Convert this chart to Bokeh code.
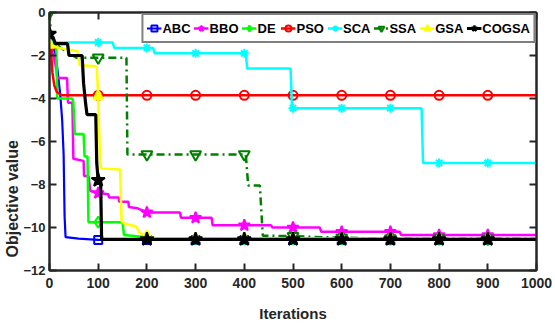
import numpy as np
from bokeh.plotting import figure
from bokeh.models import Range1d, LinearAxis, Legend, LegendItem, FixedTicker, Title
from bokeh.embed import file_html
from bokeh.resources import INLINE

# ---------------- data ----------------
X_TICKS = [0, 100, 200, 300, 400, 500, 600, 700, 800, 900, 1000]
Y_TICKS = [-12, -10, -8, -6, -4, -2, 0]
MARKER_X = [0, 100, 200, 300, 400, 500, 600, 700, 800, 900]

ABC_X = [0, 8, 12, 16, 22, 26, 29, 31, 33, 60, 100, 1000]
ABC_Y = [-1.3, -1.6, -1.9, -2.6, -3.8, -5.0, -6.6, -9.5, -10.45, -10.52, -10.58, -10.58]

BBO_X = [0, 8, 14, 16, 36, 38, 47, 49, 70, 71, 80, 84, 100, 121, 122, 142, 143, 162, 163, 180, 200, 268, 270, 333, 335, 455, 458, 555, 558, 719, 722, 1000]
BBO_Y = [-1.7, -2.0, -2.6, -3.05, -3.05, -4.2, -4.2, -6.8, -6.9, -7.6, -7.6, -8.3, -8.4, -8.45, -8.6, -8.6, -8.8, -8.8, -9.05, -9.1, -9.3, -9.3, -9.55, -9.55, -9.9, -9.9, -10.0, -10.0, -10.2, -10.2, -10.35, -10.35]

DE_X = [0, 10, 14, 16, 47, 49, 52, 70, 72, 78, 80, 150, 153, 200, 230, 1000]
DE_Y = [-1.3, -1.4, -1.6, -4.0, -4.0, -4.2, -5.65, -5.65, -6.7, -6.7, -9.75, -9.75, -10.35, -10.45, -10.52, -10.55]

PSO_X = [0, 3, 6, 10, 15, 25, 1000]
PSO_Y = [-1.65, -1.8, -2.8, -3.4, -3.7, -3.85, -3.85]

SCA_X = [0, 5, 130, 133, 213, 216, 403, 406, 495, 498, 764, 767, 1000]
SCA_Y = [-1.2, -1.38, -1.4, -1.65, -1.65, -1.9, -1.9, -2.6, -2.6, -4.45, -4.45, -7.0, -7.0]

SSA_X = [0, 2, 5, 20, 48, 55, 158, 160, 403, 408, 432, 438, 500, 560, 650, 1000]
SSA_Y = [0, -0.6, -1.3, -1.6, -2.0, -2.1, -2.1, -6.6, -6.6, -8.05, -8.05, -10.38, -10.4, -10.45, -10.5, -10.52]

GSA_X = [0, 20, 58, 62, 97, 100, 102, 104, 106, 145, 148, 152, 178, 185, 200, 215, 1000]
GSA_Y = [-1.5, -1.65, -1.8, -2.45, -2.5, -3.9, -5.6, -7.0, -7.25, -7.3, -9.7, -9.8, -9.95, -10.25, -10.4, -10.5, -10.52]

COGSA_X = [0, 8, 12, 37, 40, 67, 70, 74, 77, 95, 97, 100, 105, 107, 1000]
COGSA_Y = [-1.0, -1.2, -1.45, -1.45, -2.0, -2.0, -3.3, -4.2, -4.75, -4.75, -7.0, -7.8, -7.85, -10.55, -10.55]

SERIES = [
    ("ABC", ABC_X, ABC_Y),
    ("BBO", BBO_X, BBO_Y),
    ("DE", DE_X, DE_Y),
    ("PSO", PSO_X, PSO_Y),
    ("SCA", SCA_X, SCA_Y),
    ("SSA", SSA_X, SSA_Y),
    ("GSA", GSA_X, GSA_Y),
    ("COGSA", COGSA_X, COGSA_Y),
]

# ---------------- styles ----------------
STYLE = {
    "ABC":   dict(color="#0000FF", marker="square", size=8, fill=None, dash="solid", lw=2.2),
    "BBO":   dict(color="#FF00FF", marker="star", size=12, fill="#FF00FF", dash="solid", lw=2.5),
    "DE":    dict(color="#00FF00", marker="diamond", size=11, fill=None, dash="solid", lw=2.5),
    "PSO":   dict(color="#FF0000", marker="circle", size=9, fill=None, dash="solid", lw=2.5),
    "SCA":   dict(color="#00FFFF", marker="asterisk", size=9, fill=None, dash="solid", lw=2.5),
    "SSA":   dict(color="#008000", marker="inverted_triangle", size=11, fill=None, dash="8 4 2 4", lw=2.5),
    "GSA":   dict(color="#FFFF00", marker="triangle", size=10, fill="#FFFF00", dash="solid", lw=2.5),
    "COGSA": dict(color="#000000", marker="star", size=14, fill="#000000", dash="solid", lw=3.2),
}

FONT = "Liberation Sans"
AX = "#262626"

p = figure(width=555, height=328, output_backend="svg", toolbar_location=None,
           x_range=Range1d(0, 1000), y_range=Range1d(-12, 0),
           min_border_left=49, min_border_right=19, min_border_top=12, min_border_bottom=58)
p.background_fill_color = "white"
p.border_fill_color = "white"
p.grid.visible = False
p.outline_line_color = AX
p.outline_line_width = 2

items = []
for name, xs, ys in SERIES:
    st = STYLE[name]
    lr = p.line(xs, ys, line_color=st["color"], line_width=st["lw"], line_dash=st["dash"])
    my = np.interp(MARKER_X, xs, ys)
    mr = p.scatter(MARKER_X, my, marker=st["marker"], size=st["size"],
                   line_color=st["color"], line_width=2,
                   fill_color=st["fill"] if st["fill"] else st["color"],
                   fill_alpha=1.0 if st["fill"] else 0.0)
    items.append(LegendItem(label=name, renderers=[lr, mr]))

legend = Legend(items=items, orientation="horizontal", location="top_right",
                margin=1, padding=3, spacing=3, glyph_width=15, glyph_height=20,
                label_standoff=1,
                label_text_font=FONT, label_text_font_style="bold",
                label_text_font_size="13px", label_text_color="#000000",
                border_line_color="#000000", border_line_width=2,
                background_fill_color="white", background_fill_alpha=1.0)
p.add_layout(legend)

def style_axis(ax, size="14px"):
    ax.axis_line_color = AX
    ax.axis_line_width = 2
    ax.major_tick_line_color = AX
    ax.major_tick_line_width = 2
    ax.major_tick_in = 7
    ax.major_tick_out = 0
    ax.minor_tick_line_color = None
    ax.major_label_text_font = FONT
    ax.major_label_text_font_style = "bold"
    ax.major_label_text_color = AX
    ax.major_label_text_font_size = size

xa = p.xaxis[0]
xa.ticker = FixedTicker(ticks=X_TICKS)
style_axis(xa, "14px")
xa.major_label_standoff = 7
xa.axis_label = "Iterations"
xa.axis_label_text_font = FONT
xa.axis_label_text_font_style = "bold"
xa.axis_label_text_font_size = "15px"
xa.axis_label_text_color = AX
xa.axis_label_standoff = 14

ya = p.yaxis[0]
ya.ticker = FixedTicker(ticks=Y_TICKS)
style_axis(ya, "13px")
ya.major_label_standoff = 4

top = LinearAxis(ticker=FixedTicker(ticks=X_TICKS), major_label_standoff=0)
style_axis(top, "0px")
top.major_label_overrides = {t: "" for t in X_TICKS}
p.add_layout(top, "above")
right = LinearAxis(ticker=FixedTicker(ticks=Y_TICKS), major_label_standoff=0)
style_axis(right, "0px")
right.major_label_overrides = {t: "" for t in Y_TICKS}
p.add_layout(right, "right")

ytitle = Title(text="Objective value", align="left", offset=13, standoff=0,
               text_font=FONT, text_font_style="bold", text_font_size="16px",
               text_color=AX)
p.add_layout(ytitle, "left")

open("out.html", "w").write(file_html(p, INLINE))
